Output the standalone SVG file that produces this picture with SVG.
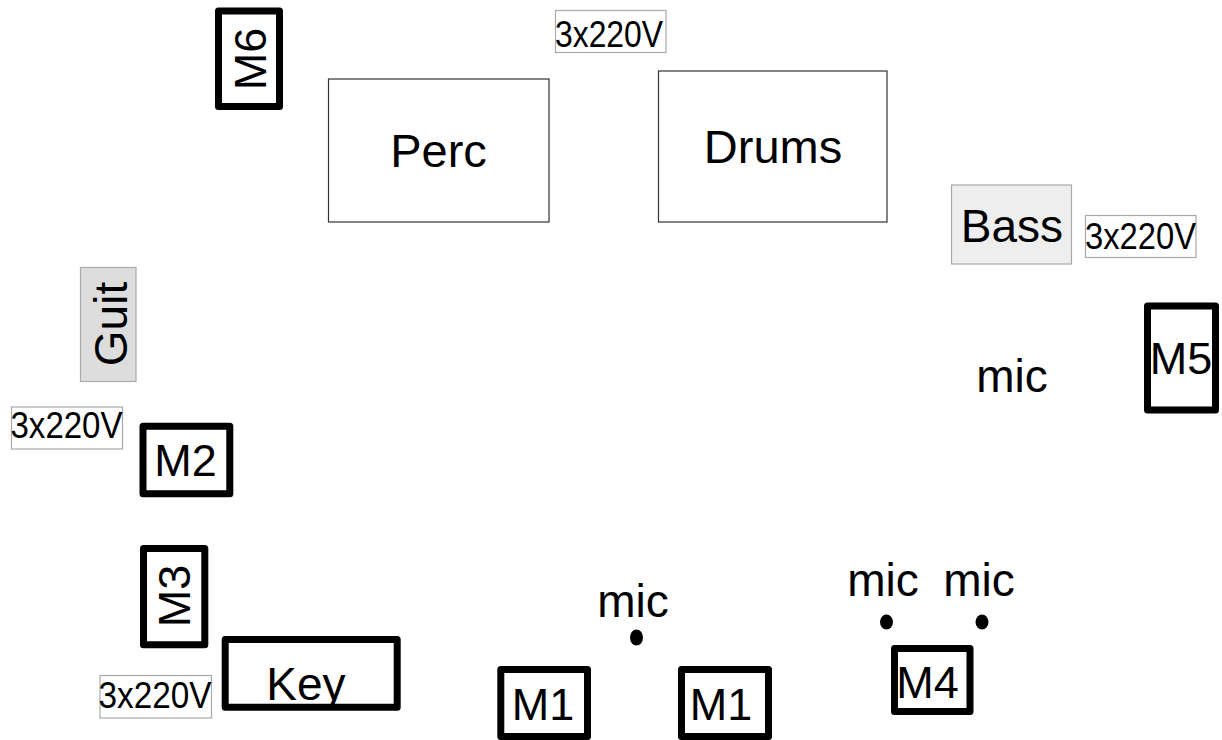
<svg xmlns="http://www.w3.org/2000/svg" width="1222" height="740" viewBox="0 0 1222 740">
<style>
text{font-family:"Liberation Sans",Arial,sans-serif;fill:#000}
.big{font-size:47px;text-anchor:middle}
.m{font-size:45px;text-anchor:middle}
.v{font-size:37.5px}
.thick{fill:#fff;stroke:#000;stroke-width:7;stroke-linejoin:round}
.thin{fill:#fff;stroke:#333;stroke-width:1.2}
.pw{fill:#fff;stroke:#aaa;stroke-width:1.2}
.dot{fill:#000}
</style>
<defs>
<clipPath id="keyclip"><rect x="228.5" y="643" width="165" height="61"/></clipPath>
</defs>
<rect width="1222" height="740" fill="#fff"/>
<g id="connectors"></g>

<g id="m6"><rect class="thick" x="218.5" y="11" width="61" height="95.5"/><text class="m" transform="translate(266,59) rotate(-90)">M6</text></g>
<g id="pw-top"><rect class="pw" x="555.5" y="10.5" width="110.5" height="42"/><text class="v" x="555" y="46.5" textLength="108" lengthAdjust="spacingAndGlyphs">3x220V</text></g>
<g id="perc"><rect class="thin" x="328.5" y="79" width="220.5" height="143"/><text class="big" x="438.5" y="166.5">Perc</text></g>
<g id="drums"><rect class="thin" x="658.5" y="71" width="228.5" height="151"/><text class="big" x="773" y="163.3">Drums</text></g>
<g id="bass"><rect x="951.5" y="185" width="120" height="79" fill="#eee" stroke="#aaa" stroke-width="1.2"/><text class="big" x="1012" y="241.7" style="font-size:46px">Bass</text></g>
<g id="pw-right"><rect class="pw" x="1085.5" y="215.5" width="110.5" height="42"/><text class="v" x="1085" y="249.3" textLength="111" lengthAdjust="spacingAndGlyphs">3x220V</text></g>
<g id="m5"><rect class="thick" x="1147.5" y="306" width="68" height="104"/><text class="m" x="1181" y="374">M5</text></g>
<g id="mic-right"><text class="big" x="1012" y="391.7" style="font-size:46px">mic</text></g>
<g id="guit"><rect x="80.5" y="267.5" width="55.5" height="114" fill="#ddd" stroke="#aaa" stroke-width="1.2"/><text class="big" transform="translate(126.5,324) rotate(-90)" style="font-size:46px">Guit</text></g>
<g id="pw-left"><rect class="pw" x="11.5" y="407" width="111" height="42"/><text class="v" x="10.5" y="438.3" textLength="112" lengthAdjust="spacingAndGlyphs">3x220V</text></g>
<g id="m2"><rect class="thick" x="143" y="426.2" width="86.8" height="67.6"/><text class="m" x="185.5" y="476">M2</text></g>
<g id="m3"><rect class="thick" x="143.5" y="548.5" width="61.3" height="96.3"/><text class="m" transform="translate(190,596) rotate(-90)">M3</text></g>
<g id="key"><rect class="thick" x="225.2" y="639.5" width="172" height="67.7"/><text class="big" x="306" y="700" style="font-size:46px" clip-path="url(#keyclip)">Key</text></g>
<g id="pw-bottom"><rect class="pw" x="100" y="675.5" width="111.5" height="42.5"/><text class="v" x="98.5" y="708.3" textLength="113" lengthAdjust="spacingAndGlyphs">3x220V</text></g>
<g id="mic-mid"><text class="big" x="633" y="616.7" style="font-size:46px">mic</text><ellipse class="dot" cx="636.5" cy="637.5" rx="6.5" ry="8"/></g>
<g id="m1-left"><rect class="thick" x="500.8" y="669.5" width="86.7" height="67"/><text class="m" x="543" y="720">M1</text></g>
<g id="m1-right"><rect class="thick" x="681.5" y="669.5" width="87" height="67"/><text class="m" x="721" y="720">M1</text></g>
<g id="mic-m4-left"><text class="big" x="883" y="596" style="font-size:46px">mic</text><ellipse class="dot" cx="886.5" cy="622" rx="6.5" ry="7.5"/></g>
<g id="mic-m4-right"><text class="big" x="979" y="596" style="font-size:46px">mic</text><ellipse class="dot" cx="982" cy="622" rx="6.5" ry="7.5"/></g>
<g id="m4"><rect class="thick" x="894.5" y="648.5" width="75.5" height="63"/><text class="m" x="927.5" y="698">M4</text></g>
</svg>
